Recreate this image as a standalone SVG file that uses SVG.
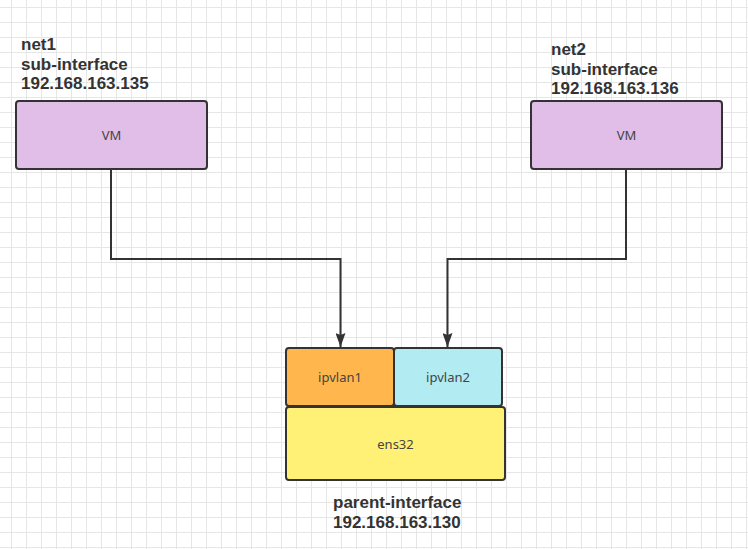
<svg xmlns="http://www.w3.org/2000/svg" width="748" height="549" viewBox="0 0 748 549">
<style>
.box{stroke:#333;stroke-width:2}
.lbl{font-family:"Noto Sans","Liberation Sans",Arial,sans-serif;font-size:13px;fill:#444;text-anchor:middle;dominant-baseline:central}
.cap{font-family:"Liberation Sans",Arial,sans-serif;font-size:17px;font-weight:bold;fill:#333}
.conn{fill:none;stroke:#333;stroke-width:2}
</style>
<defs>
<pattern id="grid" x="11" y="7" width="15" height="15" patternUnits="userSpaceOnUse">
<path d="M0.5 0V15M0 0.5H15" stroke="#e6e6e6" stroke-width="1" fill="none"/>
</pattern>
<marker id="arr" viewBox="0 0 14 10" refX="14" refY="5" markerWidth="14" markerHeight="10" markerUnits="userSpaceOnUse" orient="auto">
<path d="M0 0L14 5L0 10L2 5Z" fill="#333"/>
</marker>
</defs>
<rect width="748" height="549" fill="#fff"/>
<rect width="748" height="549" fill="url(#grid)"/>
<g id="connectors">
<path class="conn" d="M111 169V259H340.5V347" marker-end="url(#arr)"/>
<path class="conn" d="M626 169V259H447.5V347" marker-end="url(#arr)"/>
</g>
<g id="vm1">
<rect class="box" x="16" y="101" width="191" height="68" rx="3" fill="#e1bee7"/>
<text class="lbl" x="111.5" y="135">VM</text>
</g>
<g id="vm2">
<rect class="box" x="531" y="101" width="191" height="68" rx="3" fill="#e1bee7"/>
<text class="lbl" x="626.5" y="135">VM</text>
</g>
<g id="net1-label">
<text class="cap" x="21" y="50">net1</text>
<text class="cap" x="21" y="69.5">sub-interface</text>
<text class="cap" x="21" y="89">192.168.163.135</text>
</g>
<g id="net2-label">
<text class="cap" x="551" y="55">net2</text>
<text class="cap" x="551" y="74.5">sub-interface</text>
<text class="cap" x="551" y="94">192.168.163.136</text>
</g>
<g id="ipvlan1">
<rect class="box" x="286" y="348" width="108" height="58" rx="3" fill="#ffb74d"/>
<text class="lbl" x="340" y="377">ipvlan1</text>
</g>
<g id="ipvlan2">
<rect class="box" x="394" y="348" width="108" height="58" rx="3" fill="#b2ebf2"/>
<text class="lbl" x="448" y="377">ipvlan2</text>
</g>
<g id="ens32">
<rect class="box" x="286" y="407" width="219" height="73" rx="3" fill="#fff176"/>
<text class="lbl" x="395.5" y="443.5">ens32</text>
</g>
<g id="parent-label">
<text class="cap" x="333" y="508">parent-interface</text>
<text class="cap" x="333" y="527.5">192.168.163.130</text>
</g>
</svg>
